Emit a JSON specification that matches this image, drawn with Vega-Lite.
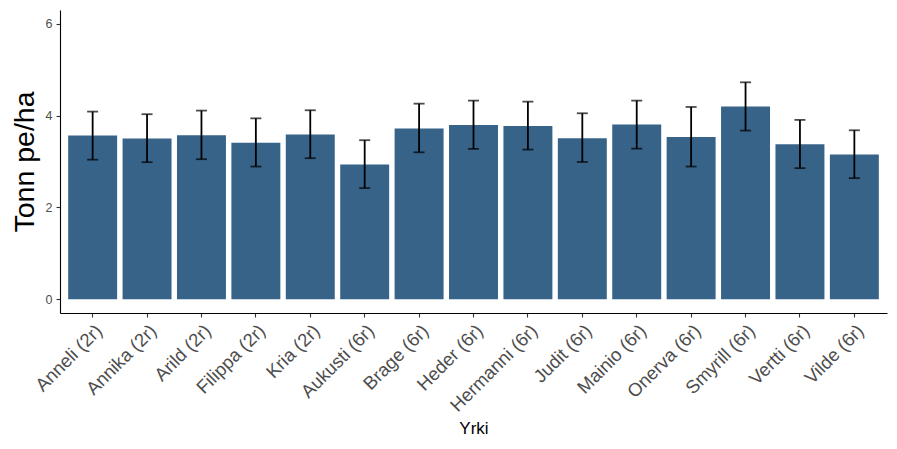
{
  "$schema": "https://vega.github.io/schema/vega-lite/v6.json",
  "width": 827,
  "height": 303,
  "autosize": {"type": "none"},
  "padding": {"left": 60, "top": 10, "right": 10, "bottom": 136},
  "background": "white",
  "config": {
    "view": {"stroke": null},
    "font": "Liberation Sans",
    "axis": {"grid": false, "domainColor": "black", "domainWidth": 1.1, "tickColor": "#333333", "tickWidth": 1.1, "tickSize": 4, "labelColor": "#4d4d4d", "labelFont": "Liberation Sans", "titleFont": "Liberation Sans", "titleColor": "black", "titleFontWeight": "normal"}
  },
  "data": {
    "values": [
      {"Yrki": "Anneli (2r)", "mean": 3.565, "lo": 3.04, "hi": 4.087},
      {"Yrki": "Annika (2r)", "mean": 3.50, "lo": 2.985, "hi": 4.03},
      {"Yrki": "Arild (2r)", "mean": 3.572, "lo": 3.05, "hi": 4.109},
      {"Yrki": "Filippa (2r)", "mean": 3.406, "lo": 2.89, "hi": 3.94},
      {"Yrki": "Kria (2r)", "mean": 3.587, "lo": 3.072, "hi": 4.116},
      {"Yrki": "Aukusti (6r)", "mean": 2.935, "lo": 2.42, "hi": 3.464},
      {"Yrki": "Brage (6r)", "mean": 3.717, "lo": 3.20, "hi": 4.26},
      {"Yrki": "Heder (6r)", "mean": 3.797, "lo": 3.275, "hi": 4.326},
      {"Yrki": "Hermanni (6r)", "mean": 3.775, "lo": 3.26, "hi": 4.304},
      {"Yrki": "Judit (6r)", "mean": 3.507, "lo": 2.99, "hi": 4.05},
      {"Yrki": "Mainio (6r)", "mean": 3.804, "lo": 3.28, "hi": 4.326},
      {"Yrki": "Onerva (6r)", "mean": 3.536, "lo": 2.89, "hi": 4.188},
      {"Yrki": "Smyrill (6r)", "mean": 4.196, "lo": 3.674, "hi": 4.725},
      {"Yrki": "Vertti (6r)", "mean": 3.377, "lo": 2.855, "hi": 3.906},
      {"Yrki": "Vilde (6r)", "mean": 3.152, "lo": 2.637, "hi": 3.68}
    ]
  },
  "encoding": {
    "x": {
      "field": "Yrki", "type": "nominal", "sort": null,
      "scale": {"paddingInner": 0.1, "paddingOuter": 0.15},
      "axis": {"title": "Yrki", "titleFontSize": 17, "titlePadding": 6, "labelAngle": -45, "labelAlign": "right", "labelBaseline": "top", "labelFontSize": 18.5, "labelPadding": 4}
    }
  },
  "layer": [
    {
      "mark": {"type": "bar", "color": "#376389"},
      "encoding": {
        "y": {
          "field": "mean", "type": "quantitative",
          "scale": {"domain": [-0.3, 6.3], "nice": false, "zero": false},
          "axis": {"title": "Tonn pe/ha", "titleFontSize": 28.5, "titlePadding": 6, "values": [0, 2, 4, 6], "labelFontSize": 12.5, "labelPadding": 4}
        },
        "y2": {"datum": 0}
      }
    },
    {
      "mark": {"type": "rule", "color": "black", "strokeWidth": 1.8},
      "encoding": {
        "y": {"field": "lo", "type": "quantitative"},
        "y2": {"field": "hi"}
      }
    },
    {
      "mark": {"type": "tick", "color": "black", "thickness": 1.8, "size": 11, "orient": "horizontal"},
      "encoding": {"y": {"field": "lo", "type": "quantitative"}}
    },
    {
      "mark": {"type": "tick", "color": "black", "thickness": 1.8, "size": 11, "orient": "horizontal"},
      "encoding": {"y": {"field": "hi", "type": "quantitative"}}
    }
  ]
}
